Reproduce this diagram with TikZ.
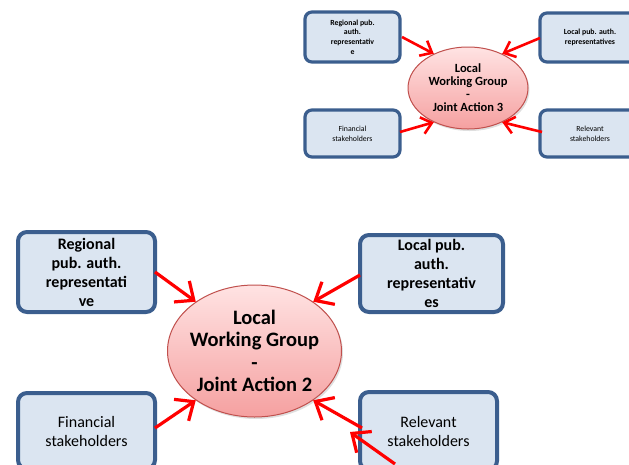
\documentclass[tikz,border=0pt]{standalone}
\usepackage{fontspec}
\setmainfont{Carlito}
\usetikzlibrary{arrows.meta,shadows,shapes.geometric}
\definecolor{boxfill}{HTML}{DBE5F1}
\definecolor{boxline}{HTML}{3B5E8E}
\definecolor{ellline}{HTML}{C0504D}
\definecolor{elltop}{HTML}{FFE3E3}
\definecolor{ellbot}{HTML}{F5A0A0}
\definecolor{arrred}{HTML}{FF0000}
\tikzset{
  bigbox/.style={draw=boxline, fill=boxfill, line width=4pt, rounded corners=9pt, align=center, inner sep=0pt, font=\fontsize{16}{19}\selectfont},
  smallbox/.style={draw=boxline, fill=boxfill, line width=3.2pt, rounded corners=7pt, align=center, inner sep=0pt, font=\fontsize{7.8}{9.7}\selectfont},
  ellstyle/.style={ellipse, draw=ellline, line width=1pt, top color=elltop, bottom color=ellbot, align=center, inner sep=-14pt,
    drop shadow={shadow xshift=1.5pt, shadow yshift=-2pt, opacity=0.25}},
  bigarrow/.style={draw=arrred, line width=3.2pt, -{Straight Barb[length=15pt,width=26pt,line width=3.2pt]}},
  smallarrow/.style={draw=arrred, line width=2.6pt, -{Straight Barb[length=10pt,width=17pt,line width=2.6pt]}},
}
\begin{document}
\begin{tikzpicture}[x=1pt,y=-1pt]
\useasboundingbox (0,0) rectangle (629,464);
\clip (0,0) rectangle (629,464);
% ---------- top diagram ----------
\node[smallbox, minimum width=95pt, minimum height=50pt] (tReg) at (352.5,37) {\bfseries Regional pub.\\\bfseries auth.\\\bfseries representativ\\\bfseries e};
\node[smallbox, minimum width=100pt, minimum height=49pt] (tLoc) at (590,37.5) {\bfseries Local pub. auth.\\\bfseries representatives};
\node[smallbox, minimum width=95pt, minimum height=47pt] (tFin) at (352.5,133.5) {Financial\\stakeholders};
\node[smallbox, minimum width=100pt, minimum height=47pt] (tRel) at (590,133.5) {Relevant\\stakeholders};
\node[ellstyle, minimum width=120pt, minimum height=82pt, font=\bfseries\fontsize{12.5}{13}\selectfont] (tEll) at (468,88) {Local\\Working Group\\-\\Joint Action 3};
\coordinate (tRegT) at (402,37);
\coordinate (tLocT) at (540,38);
\coordinate (tFinT) at (400,132);
\coordinate (tRelT) at (542,132);
\draw[smallarrow] (tRegT) -- (tEll.135);
\draw[smallarrow] (tLocT) -- (tEll.45);
\draw[smallarrow] (tFinT) -- (tEll.-135);
\draw[smallarrow] (tRelT) -- (tEll.-45);
% ---------- bottom diagram ----------
\node[bigbox, minimum width=137pt, minimum height=80pt] (bReg) at (86.5,272) {\bfseries Regional\\\bfseries pub. auth.\\\bfseries representati\\\bfseries ve};
\node[bigbox, minimum width=143pt, minimum height=77pt] (bLoc) at (431.5,273.5) {\bfseries Local pub.\\\bfseries auth.\\\bfseries representativ\\\bfseries es};
\node[bigbox, minimum width=137pt, minimum height=76pt] (bFin) at (86.5,431) {Financial\\stakeholders};
\node[bigbox, minimum width=137pt, minimum height=78pt] (bRel) at (428.5,431) {Relevant\\stakeholders};
\node[ellstyle, minimum width=174pt, minimum height=132pt, font=\bfseries\fontsize{20.5}{22.5}\selectfont] (bEll) at (254.5,351) {Local\\Working Group\\-\\Joint Action 2};
\coordinate (bRegT) at (155,272);
\coordinate (bLocT) at (360,275);
\coordinate (bFinT) at (155,428);
\coordinate (bRelT) at (362,428);
\coordinate (bExtT) at (395,464);
\coordinate (bExtH) at (350,432);
\draw[bigarrow] (bRegT) -- (bEll.140);
\draw[bigarrow] (bLocT) -- (bEll.40);
\draw[bigarrow] (bFinT) -- (bEll.-140);
\draw[bigarrow] (bRelT) -- (bEll.-40);
\draw[bigarrow] (bExtT) -- (bExtH);
\end{tikzpicture}
\end{document}
